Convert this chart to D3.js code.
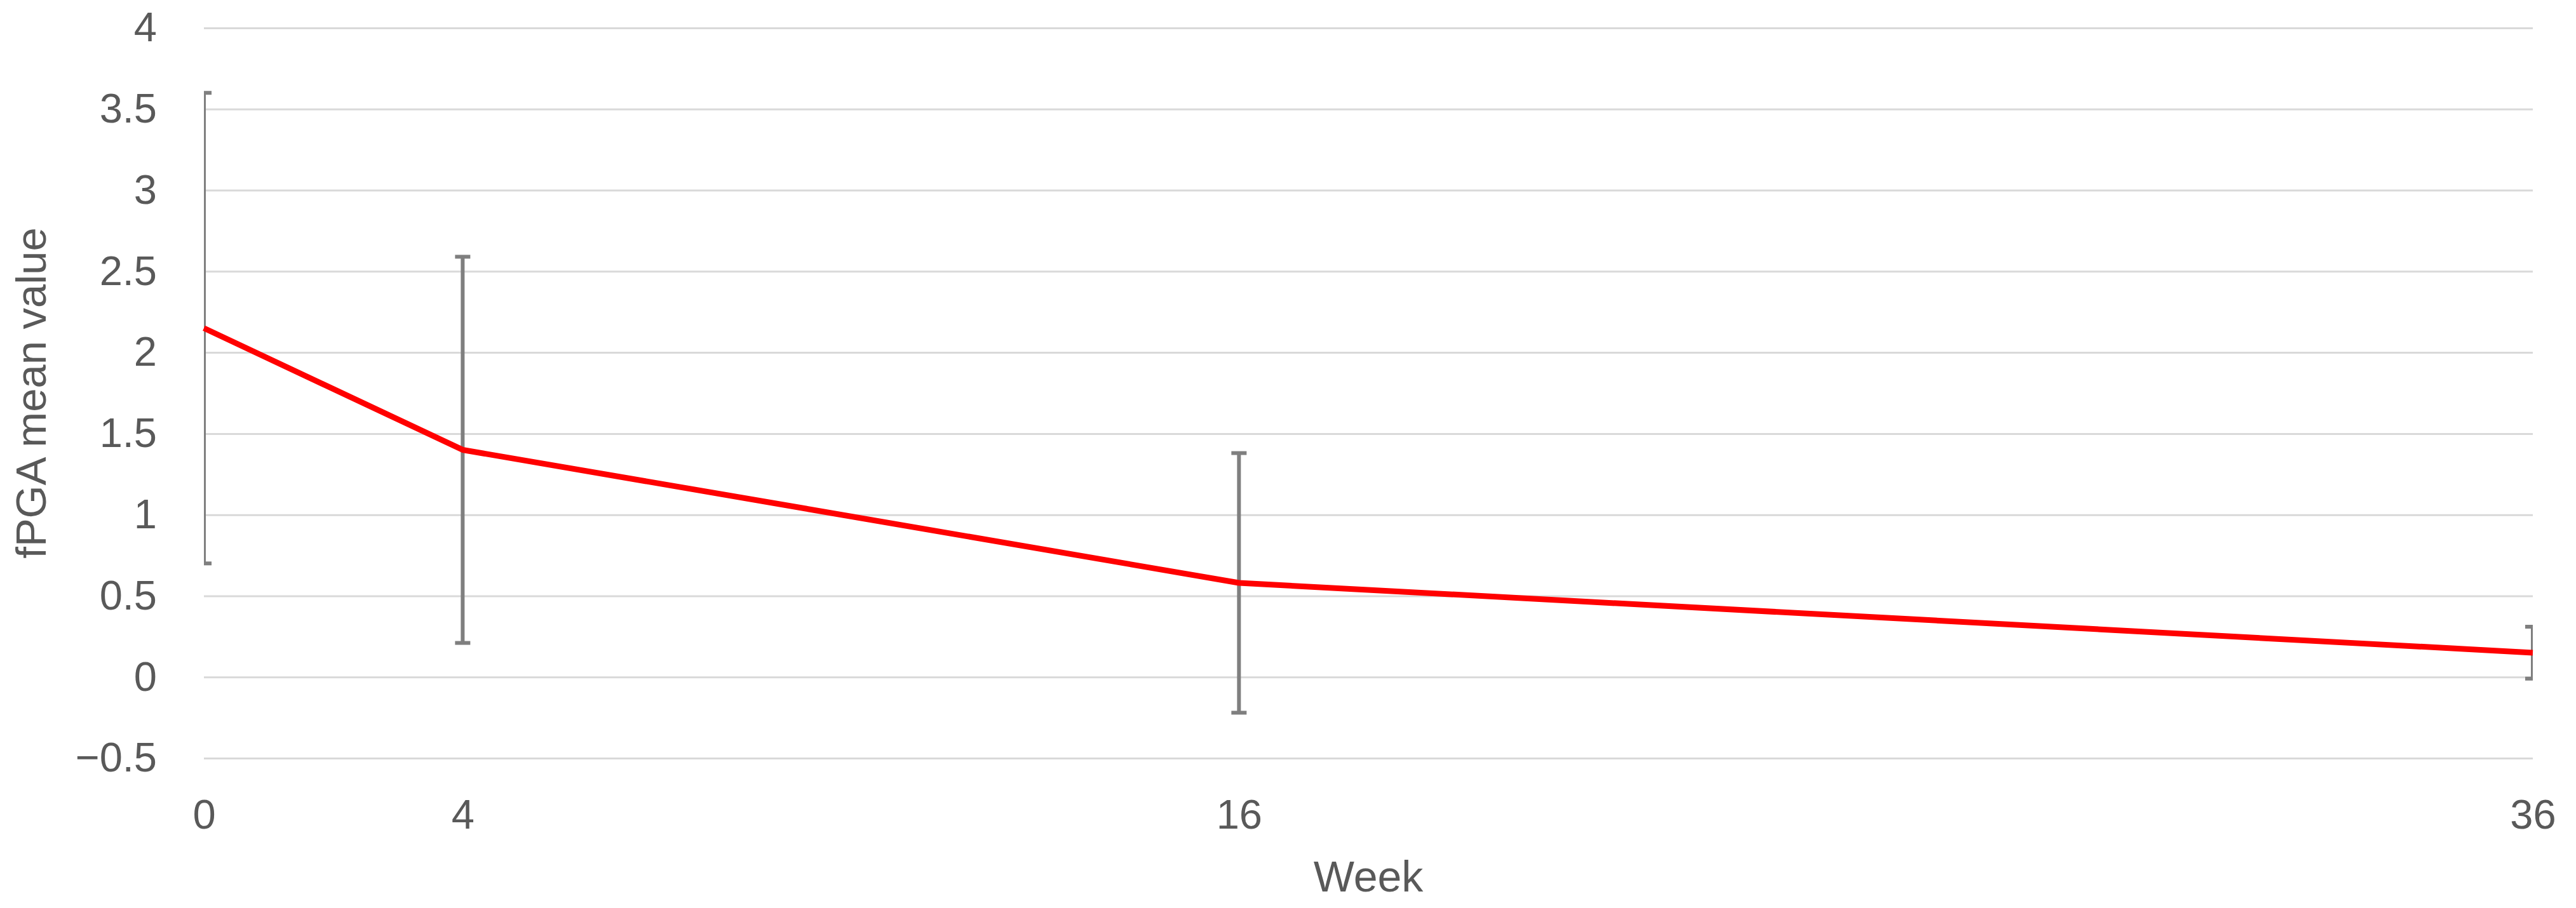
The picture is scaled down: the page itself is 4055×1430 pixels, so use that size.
<!DOCTYPE html>
<html>
<head>
<meta charset="utf-8">
<script src="https://cdn.jsdelivr.net/npm/d3@7"></script>
<style>
  html, body { margin: 0; padding: 0; background: #ffffff; }
  svg { display: block; }
  text { font-family: "Liberation Sans", Arial, sans-serif; fill: #595959; }
</style>
</head>
<body>
<svg id="chart" width="4055" height="1430"></svg>
<script>
// ---- data ----
const weeks = [0, 4, 16, 36];
const meanValues = [2.15, 1.40, 0.58, 0.15];
const errorValues = [1.45, 1.19, 0.80, 0.16];
const yTicks = [-0.5, 0, 0.5, 1, 1.5, 2, 2.5, 3, 3.5, 4];
const xTickLabels = [0, 4, 16, 36];
const xTitle = "Week";
const yTitle = "fPGA mean value";

(function () {
  // ---- layout ----
  const W = 4055, H = 1430;
  const pLeft = 321, pRight = 3987, pTop = 44, pBottom = 1194;

  const svg = d3.select("#chart");
  const x = d3.scaleLinear().domain([0, 36]).range([pLeft, pRight]);
  const y = d3.scaleLinear().domain([-0.5, 4]).range([pBottom, pTop]);

  // gridlines + y labels
  const yAxis = d3.axisLeft(y)
    .tickValues(yTicks)
    .tickSize(-(pRight - pLeft))
    .tickPadding(pLeft - 247)
    .tickFormat(d => d < 0 ? "\u2212" + Math.abs(d) : String(d));
  const gy = svg.append("g").attr("transform", `translate(${pLeft},0)`).call(yAxis);
  gy.select(".domain").remove();
  gy.selectAll(".tick line").attr("stroke", "#d9d9d9").attr("stroke-width", 3);
  gy.selectAll(".tick text")
    .attr("font-size", 65)
    .attr("fill", "#595959")
    .attr("font-family", "'Liberation Sans', Arial, sans-serif")
    .attr("dy", "0.32em");

  // x labels
  const xAxis = d3.axisBottom(x).tickValues(xTickLabels).tickSize(0).tickPadding(0).tickFormat(d3.format("d"));
  const gx = svg.append("g").attr("transform", `translate(0,1305)`).call(xAxis);
  gx.select(".domain").remove();
  gx.selectAll(".tick text")
    .attr("font-size", 65)
    .attr("fill", "#595959")
    .attr("font-family", "'Liberation Sans', Arial, sans-serif")
    .attr("dy", 0)
    .attr("y", 0);

  // clip region
  svg.append("clipPath").attr("id", "plotclip")
    .append("rect").attr("x", pLeft).attr("y", 0).attr("width", pRight - pLeft).attr("height", H);

  const data = weeks.map((w, i) => ({ w, m: meanValues[i], e: errorValues[i] }));

  // error bars
  const eb = svg.append("g").attr("clip-path", "url(#plotclip)")
    .attr("stroke", "#7f7f7f").attr("stroke-width", 6).attr("fill", "none");
  const capHalf = 12;
  data.forEach(d => {
    const cx = x(d.w), y1 = y(d.m + d.e), y2 = y(d.m - d.e);
    eb.append("line").attr("x1", cx).attr("x2", cx).attr("y1", y1).attr("y2", y2);
    eb.append("line").attr("x1", cx - capHalf).attr("x2", cx + capHalf).attr("y1", y1).attr("y2", y1);
    eb.append("line").attr("x1", cx - capHalf).attr("x2", cx + capHalf).attr("y1", y2).attr("y2", y2);
  });

  // mean line
  const line = d3.line().x(d => x(d.w)).y(d => y(d.m));
  svg.append("path").datum(data)
    .attr("d", line)
    .attr("fill", "none")
    .attr("stroke", "#ff0000")
    .attr("stroke-width", 9)
    .attr("stroke-linejoin", "round");

  // axis titles
  svg.append("text")
    .attr("x", (pLeft + pRight) / 2)
    .attr("y", 1404)
    .attr("text-anchor", "middle")
    .attr("font-size", 68)
    .text(xTitle);

  svg.append("text")
    .attr("transform", `translate(72,${(pTop + pBottom) / 2}) rotate(-90)`)
    .attr("text-anchor", "middle")
    .attr("font-size", 67)
    .text(yTitle);
})();
</script>
</body>
</html>
